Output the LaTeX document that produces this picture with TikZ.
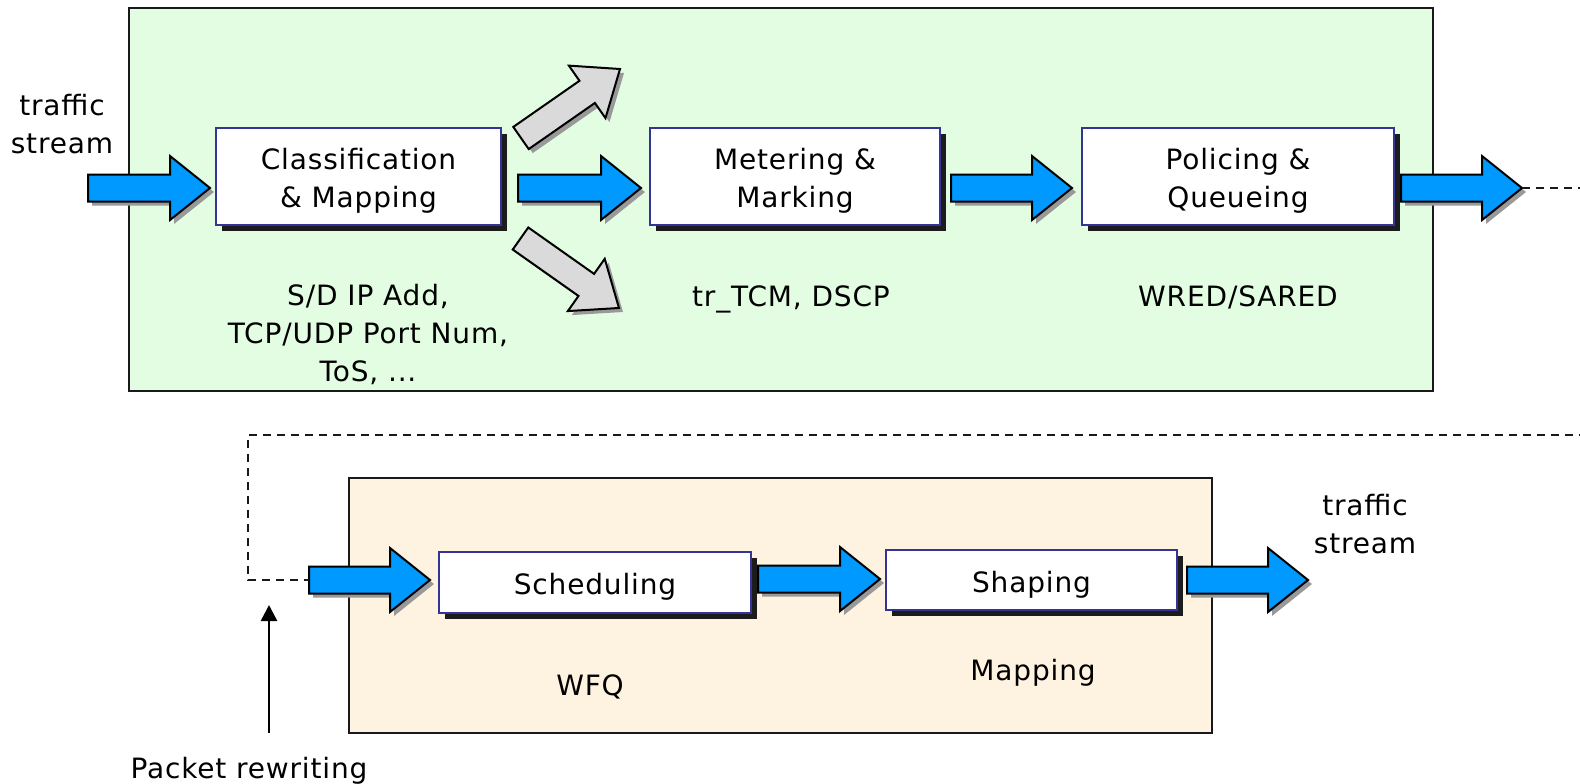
\documentclass[tikz,border=0pt]{standalone}
\usepackage{fontspec}
\setmainfont[LetterSpace=3]{DejaVu Sans}
\usetikzlibrary{calc,shadows,arrows.meta}

\definecolor{panelgreen}{RGB}{227,253,227}
\definecolor{panelcream}{RGB}{254,242,224}
\definecolor{flowblue}{RGB}{0,153,255}
\definecolor{branchgray}{RGB}{218,218,218}
\definecolor{boxnavy}{RGB}{52,52,150}
\definecolor{boxshadow}{RGB}{28,28,28}

\tikzset{
  % block arrow of given length (pt), pointing along +x
  pics/blockarrow/.style={code={
    \path[pic actions]
      (0pt,-6.75pt) -- ({(#1-20)*1pt},-6.75pt) -- ({(#1-20)*1pt},-16pt)
      -- ({#1*1pt},0pt) -- ({(#1-20)*1pt},16pt) -- ({(#1-20)*1pt},6.75pt)
      -- (0pt,6.75pt) -- cycle;
  }},
  txt/.style={font=\fontsize{14}{19}\selectfont, align=center, inner sep=0pt, text=black},
  stage/.style={txt, draw=boxnavy, line width=1pt, fill=white, outer sep=0pt, text depth=0pt,
    drop shadow={shadow xshift=3pt, shadow yshift=-3pt, fill=boxshadow, opacity=1}},
  twoline/.style={text height=30.5pt},
  oneline/.style={text height=12pt},
  panel/.style={draw=black!90, line width=0.7pt},
  loopback/.style={draw=black!90, line width=0.8pt, dash pattern=on 4pt off 3pt},
}

% block arrow from #2 to #3 filled with #1, with a soft drop shadow
\newcommand\flowarrow[3]{%
  \path let \p1=(#2), \p2=(#3),
    \n1={atan2(\y2-\y1,\x2-\x1)}, \n2={veclen(\x2-\x1,\y2-\y1)} in
    ($(#2)+(2pt,-2pt)$) pic[rotate=\n1, fill=black!40, draw=none]{blockarrow=\n2}
    (#2) pic[rotate=\n1, fill=#1, draw=black, line width=1pt, line join=miter]{blockarrow=\n2};
}

\begin{document}
\begin{tikzpicture}[x=0.5pt, y=-0.5pt]
\useasboundingbox (0,0) rectangle (1580,783);
\clip (0,0) rectangle (1580,783);

% ---- ingress stage panel ----
\draw[panel, fill=panelgreen] (129,8) rectangle (1433,391);

\node[stage, twoline, minimum width=142.5pt, minimum height=48.5pt] (cls)    at (358.5,176.5) {Classification\\\& Mapping};
\node[stage, twoline, minimum width=145pt,   minimum height=48.5pt] (meter)  at (795,176.5)   {Metering \&\\Marking};
\node[stage, twoline, minimum width=156pt,   minimum height=48.5pt] (police) at (1238,176.5)  {Policing \&\\Queueing};

\node[txt] (instream)  at (62,124) {traffic\\stream};
\node[txt] (clsnote)   at (368,334) {S/D IP Add,\\TCP/UDP Port Num,\\ToS, ...};
\node[txt] (meternote) at (791,299) {tr\_TCM, DSCP};
\node[txt] (polnote)   at (1238,297) {WRED/SARED};

\coordinate (a1s) at (88,188);
\coordinate (a4e) at ($(police.east)+(128,11.5)$);

\flowarrow{flowblue}{a1s}{$(cls.west)+(-6,11.5)$}
\flowarrow{flowblue}{$(cls.east)+(17,11.5)$}{$(meter.west)+(-9,11.5)$}
\flowarrow{flowblue}{$(meter.east)+(11,11.5)$}{$(police.west)+(-10,11.5)$}
\flowarrow{flowblue}{$(police.east)+(7,11.5)$}{a4e}
\flowarrow{branchgray}{$(cls.east)+(20,-38.5)$}{$(meter.west)+(-30,-107.5)$}
\flowarrow{branchgray}{$(cls.east)+(19.5,62)$}{$(meter.west)+(-31,131.5)$}

% ---- egress stage panel ----
\draw[panel, fill=panelcream] (349,478) rectangle (1212,733);

\node[stage, oneline, minimum width=156pt,   minimum height=30.5pt] (sched) at (595,582.5) {Scheduling};
\node[stage, oneline, minimum width=145.5pt, minimum height=30pt]   (shape) at (1031.5,580) {Shaping};

\node[txt] (schednote) at (590,687) {WFQ};
\node[txt] (shapenote) at (1033,673) {Mapping};
\node[txt] (outstream) at (1365,524) {traffic\\stream};
\node[txt] (rewrite)   at (249,771) {Packet rewriting};

\coordinate (b1s) at (309,580);
\flowarrow{flowblue}{b1s}{$(sched.west)+(-9,-2.5)$}
\flowarrow{flowblue}{$(sched.east)+(7,-3.5)$}{$(shape.west)+(-6,-1)$}
\flowarrow{flowblue}{$(shape.east)+(10,0)$}{$(shape.east)+(131,0)$}

% ---- loop from ingress output back to egress input ----
\draw[loopback] (a4e) -- (1620,188) -- (1620,435) -- (248,435) -- (248,580) -- (b1s);

% ---- rewriting marker ----
\coordinate (rwtip)  at (269,605);
\coordinate (rwbase) at (269,733);
\draw[line width=1.3pt, -{Triangle[length=8pt,width=8pt]}] (rwbase) -- (rwtip);
\end{tikzpicture}
\end{document}
